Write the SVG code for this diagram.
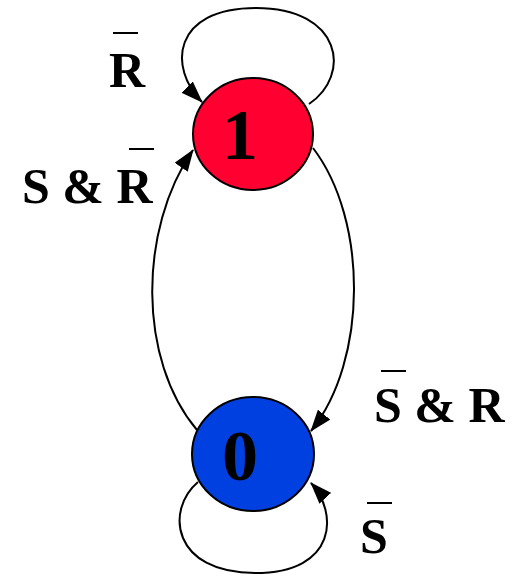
<svg xmlns="http://www.w3.org/2000/svg" width="518" height="577" viewBox="0 0 518 577">
  <style>
    .node { stroke: #000; stroke-width: 2; }
    .edge { fill: none; stroke: #000; stroke-width: 2; marker-end: url(#arrow); }
    .lbl { font-family: "Liberation Serif", "Times New Roman", serif; font-weight: bold; font-size: 50px; fill: #000; }
    .num { font-family: "Liberation Serif", "Times New Roman", serif; font-weight: bold; font-size: 72px; fill: #000; text-anchor: middle; }
    .bar { stroke: #000; stroke-width: 2; }
  </style>
  <defs>
    <marker id="arrow" viewBox="0 0 22 16" refX="21" refY="8" markerWidth="22" markerHeight="16" markerUnits="userSpaceOnUse" orient="auto">
      <path d="M0,0 L22,8 L0,16 Z" fill="#000"/>
    </marker>
  </defs>

  <rect width="518" height="577" fill="#fff"/>

  <g id="connectors">
    <!-- self loop on state 1 -->
    <path class="edge" d="M309,104 C352,75 342,8 256,8 C172,8 168,68 202,102"/>
    <!-- 1 -> 0 -->
    <path class="edge" d="M313,148 C368,220 368,360 311,431"/>
    <!-- 0 -> 1 -->
    <path class="edge" d="M197,430 C138,360 138,230 193,150"/>
    <!-- self loop on state 0 -->
    <path class="edge" d="M198,482 C165,510 172,573 255,573 C338,573 338,512 311,483"/>
  </g>

  <g id="state1">
    <ellipse class="node" cx="253" cy="134" rx="60" ry="56" fill="#FF0030"/>
    <text class="num" x="240" y="159">1</text>
  </g>

  <g id="state0">
    <ellipse class="node" cx="253" cy="454" rx="61" ry="57" fill="#0040E0"/>
    <text class="num" x="240" y="480">0</text>
  </g>

  <g id="labels">
    <text class="lbl" x="109" y="87">R</text>
    <line class="bar" x1="113" y1="33" x2="138" y2="33"/>

    <text class="lbl" x="22" y="203">S &amp; R</text>
    <line class="bar" x1="129" y1="149" x2="154" y2="149"/>

    <text class="lbl" x="374" y="422">S &amp; R</text>
    <line class="bar" x1="381" y1="371" x2="406" y2="371"/>

    <text class="lbl" x="360" y="553">S</text>
    <line class="bar" x1="367" y1="503" x2="392" y2="503"/>
  </g>
</svg>
